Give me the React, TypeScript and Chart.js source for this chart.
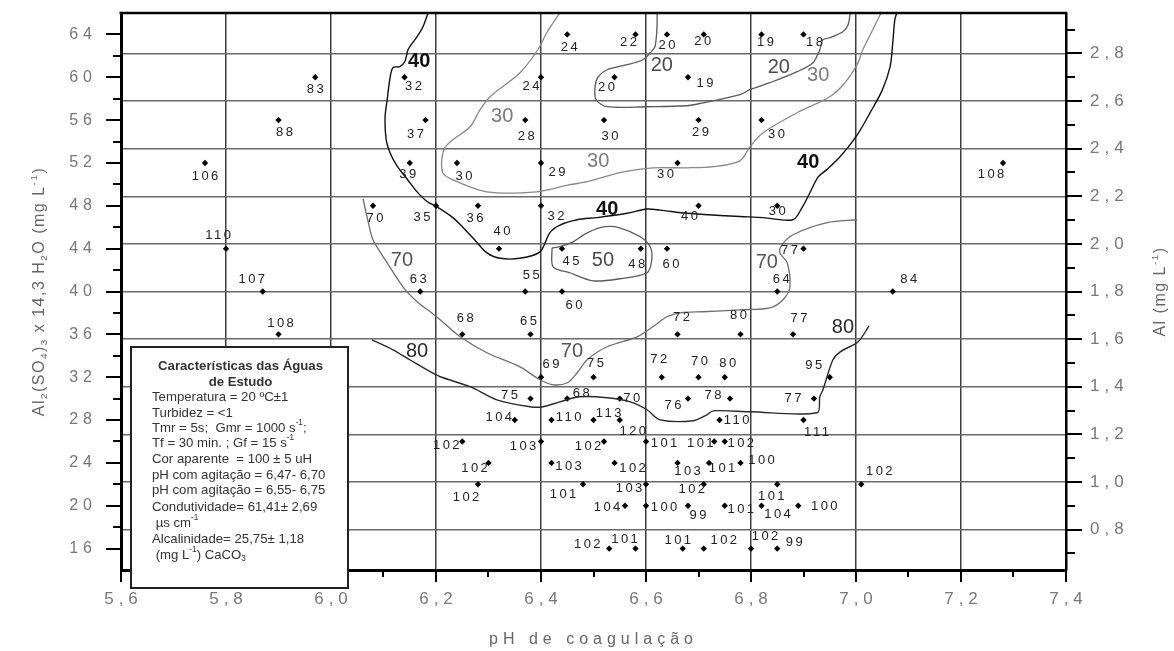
import React, { useEffect, useRef } from 'react';
import { Chart, registerables } from 'chart.js';

Chart.register(...registerables);

const FONT = '"Liberation Sans", Arial, Helvetica, sans-serif';

// ---------------- sample points ----------------
// coagulation pH
const samplePH = [
  6.45, 6.58, 6.64, 6.71, 6.82, 6.90,
  5.97, 6.14, 6.40, 6.54, 6.68,
  5.90, 6.18, 6.37, 6.52, 6.70, 6.82,
  5.76, 6.15, 6.24, 6.40, 6.66, 7.28,
  6.08, 6.20, 6.28, 6.40, 6.70, 6.85,
  5.80, 6.32, 6.44, 6.59, 6.64, 6.90,
  5.87, 6.17, 6.37, 6.44, 6.85, 7.07,
  5.90, 6.25, 6.38, 6.66, 6.78, 6.88,
  6.40, 6.50, 6.63, 6.70, 6.75, 6.95,
  6.38, 6.45, 6.55, 6.68, 6.76, 6.92,
  6.35, 6.42, 6.50, 6.55, 6.74, 6.90,
  6.25, 6.40, 6.52, 6.60, 6.73, 6.75,
  6.30, 6.42, 6.54, 6.66, 6.72, 6.78,
  6.28, 6.48, 6.60, 6.71, 6.85, 7.01,
  6.56, 6.60, 6.68, 6.75, 6.82, 6.89,
  6.53, 6.58, 6.67, 6.71, 6.80, 6.85,
];
// Al2(SO4)3 x 14,3 H2O dose (mg/L)
const sampleDose = [
  64, 64, 64, 64, 64, 64,
  60, 60, 60, 60, 60,
  56, 56, 56, 56, 56, 56,
  52, 52, 52, 52, 52, 52,
  48, 48, 48, 48, 48, 48,
  44, 44, 44, 44, 44, 44,
  40, 40, 40, 40, 40, 40,
  36, 36, 36, 36, 36, 36,
  32, 32, 32, 32, 32, 32,
  30, 30, 30, 30, 30, 30,
  28, 28, 28, 28, 28, 28,
  26, 26, 26, 26, 26, 26,
  24, 24, 24, 24, 24, 24,
  22, 22, 22, 22, 22, 22,
  20, 20, 20, 20, 20, 20,
  16, 16, 16, 16, 16, 16,
];
// measured value written next to each point
const sampleValue = [
  '24', '22', '20', '20', '19', '18',
  '83', '32', '24', '20', '19',
  '88', '37', '28', '30', '29', '30',
  '106', '39', '30', '29', '30', '108',
  '70', '35', '36', '32', '40', '30',
  '110', '40', '45', '48', '60', '77',
  '107', '63', '55', '60', '64', '84',
  '108', '68', '65', '72', '80', '77',
  '69', '75', '72', '70', '80', '95',
  '75', '68', '70', '76', '78', '77',
  '104', '110', '113', '120', '110', '111',
  '102', '103', '102', '101', '101', '102',
  '102', '103', '102', '103', '101', '100',
  '102', '101', '103', '102', '101', '102',
  '104', '100', '99', '101', '104', '100',
  '102', '101', '101', '102', '102', '99',
];
// label placement relative to its marker (px) – styling only
const labelShift: [number, number][] = [
  [2, 13], [-7, 8], [0, 11], [-1, 7], [4, 8], [11, 8],
  [0, 12], [9, 9], [-10, 9], [-8, 10], [17, 6],
  [6, 12], [-10, 14], [1, 16], [6, 16], [2, 12], [15, 14],
  [0, 13], [-2, 11], [7, 13], [16, 9], [-12, 11], [-12, 11],
  [2, 13], [-14, 12], [-3, 13], [15, 11], [-9, 11], [0, 6],
  [-8, -13], [3, -17], [9, 13], [-4, 16], [4, 16], [-14, 2],
  [-11, -12], [-2, -12], [6, -16], [12, 14], [4, -12], [16, -12],
  [2, -11], [3, -16], [-2, -13], [4, -17], [-2, -19], [6, -16],
  [10, -13], [2, -14], [-3, -18], [1, -16], [3, -14], [-16, -12],
  [-21, -3], [14, -5], [12, 0], [-15, 7], [-17, -3], [-21, 0],
  [-16, -3], [17, -3], [15, -7], [13, 11], [17, 0], [13, 12],
  [-16, 4], [-18, 5], [-16, 5], [18, 2], [-14, 2], [16, 2],
  [-14, 6], [17, 4], [18, 6], [10, 9], [13, 6], [21, -2],
  [-12, 13], [-20, 10], [-17, 4], [-12, 5], [-6, 12], [18, -13],
  [-18, 2], [18, 2], [10, 10], [16, 4], [16, 9], [26, 1],
  [-22, -4], [-11, -9], [-5, -8], [20, -8], [14, -12], [17, -6],
];

// ---------------- iso-lines [pH, dose] ----------------
const curve20: [number, number][] = [
  [6.621, 66.03], [6.621, 64.72], [6.617, 62.85], [6.608, 62.29], [6.594, 61.64], [6.564, 61.17],
  [6.526, 60.7], [6.509, 60.05], [6.503, 59.12], [6.505, 57.9], [6.526, 57.25], [6.602, 57.25],
  [6.678, 57.34], [6.709, 57.62], [6.779, 58.37], [6.798, 58.84], [6.836, 59.49], [6.888, 60.52],
  [6.918, 61.36], [6.931, 62.57], [6.937, 63.51], [6.95, 63.69], [6.975, 64.25], [6.985, 64.91],
  [6.989, 66.03],
];
const curve30: [number, number][] = [
  [6.436, 66.03], [6.411, 64.16], [6.394, 62.57], [6.36, 60.42], [6.303, 58.18], [6.284, 56.97],
  [6.265, 55.38], [6.232, 54.17], [6.217, 53.42], [6.211, 52.3], [6.213, 51.09], [6.232, 50.43],
  [6.297, 49.31], [6.392, 49.31], [6.455, 49.97], [6.488, 50.25], [6.55, 51.09], [6.583, 51.37],
  [6.613, 51.55], [6.678, 51.55], [6.728, 51.65], [6.779, 52.2], [6.798, 53.51], [6.823, 54.82],
  [6.888, 56.69], [6.95, 58.18], [6.979, 59.49], [7.002, 61.17], [7.013, 62.57], [7.032, 64.44],
  [7.046, 65.84], [7.05, 66.03],
];
const curve40: [number, number][] = [
  [6.185, 66.03], [6.175, 64.7], [6.164, 63.8], [6.147, 62.6], [6.141, 61.5], [6.131, 61.0],
  [6.118, 60.9], [6.112, 59.8], [6.107, 57.9], [6.103, 56.3], [6.105, 54.2], [6.112, 53.0],
  [6.126, 51.7], [6.145, 50.5], [6.164, 49.3], [6.183, 48.4], [6.202, 47.9], [6.232, 46.9],
  [6.251, 46.0], [6.274, 44.8], [6.297, 43.6], [6.322, 43.1], [6.36, 43.1], [6.398, 43.7],
  [6.417, 45.5], [6.436, 46.2], [6.469, 46.7], [6.507, 46.9], [6.564, 47.3], [6.602, 47.7],
  [6.627, 47.6], [6.678, 47.3], [6.741, 47.1], [6.779, 47.0], [6.823, 46.9], [6.88, 46.7],
  [6.898, 47.9], [6.912, 49.2], [6.928, 50.7], [6.945, 51.4], [6.97, 52.6], [7.002, 54.6],
  [7.027, 56.7], [7.05, 58.8], [7.065, 61.0], [7.07, 63.2], [7.074, 65.4], [7.078, 66.03],
];
const curve50: [number, number][] = [
  [6.421, 44.08], [6.423, 42.31], [6.455, 41.75], [6.499, 41.0], [6.55, 41.19], [6.602, 41.75],
  [6.611, 42.96], [6.608, 44.18], [6.589, 45.11], [6.55, 45.95], [6.522, 46.05], [6.488, 45.48],
  [6.461, 44.64], [6.436, 44.18], [6.421, 44.08],
];
const curve70: [number, number][] = [
  [6.061, 48.66], [6.07, 46.7], [6.08, 44.83], [6.107, 42.68], [6.137, 40.44], [6.164, 39.04],
  [6.189, 38.11], [6.208, 37.36], [6.246, 35.77], [6.297, 34.28], [6.36, 32.97], [6.398, 31.76],
  [6.423, 31.29], [6.45, 31.48], [6.469, 32.41], [6.488, 33.63], [6.526, 34.84], [6.583, 35.77],
  [6.613, 36.71], [6.64, 37.64], [6.665, 38.01], [6.709, 38.11], [6.779, 38.29], [6.836, 38.48],
  [6.861, 39.23], [6.874, 40.44], [6.869, 42.68], [6.855, 43.62], [6.859, 44.36], [6.88, 45.3],
  [6.945, 46.42], [7.002, 46.7],
];
const curve80: [number, number][] = [
  [6.078, 35.49], [6.118, 34.56], [6.15, 33.63], [6.189, 32.51], [6.208, 32.04], [6.265, 31.11],
  [6.316, 29.89], [6.379, 29.24], [6.404, 29.24], [6.436, 29.7], [6.474, 30.17], [6.526, 30.08],
  [6.57, 29.7], [6.602, 28.96], [6.627, 28.02], [6.69, 27.93], [6.716, 28.49], [6.728, 28.86],
  [6.798, 28.77], [6.926, 28.68], [6.931, 30.17], [6.937, 30.83], [6.956, 33.63], [6.97, 34.37],
  [7.004, 35.31], [7.025, 36.8],
];

// iso-line labels
const isoLabelText = ['40', '40', '40', '30', '30', '30', '20', '20', '50', '70', '70', '70', '80', '80'];
const isoLabelPH = [6.168, 6.526, 6.909, 6.326, 6.509, 6.928, 6.63, 6.853, 6.518, 6.135, 6.459, 6.83, 6.164, 6.975];
const isoLabelDose = [61.45, 47.63, 52.02, 56.31, 52.11, 60.14, 61.07, 60.89, 42.87, 42.87, 34.37, 42.68, 34.37, 36.61];

// axis ranges and tick values
const X_MIN = 5.6, X_MAX = 7.4;
const Y_MIN = 14, Y_MAX = 66;
const AL_MIN = 0.63, AL_MAX = 2.97;
const phTicks = [5.6, 5.7, 5.8, 5.9, 6.0, 6.1, 6.2, 6.3, 6.4, 6.5, 6.6, 6.7, 6.8, 6.9, 7.0, 7.1, 7.2, 7.3, 7.4];
const doseTicks = [16, 18, 20, 22, 24, 26, 28, 30, 32, 34, 36, 38, 40, 42, 44, 46, 48, 50, 52, 54, 56, 58, 60, 62, 64];
const alTicks = [0.7, 0.8, 0.9, 1.0, 1.1, 1.2, 1.3, 1.4, 1.5, 1.6, 1.7, 1.8, 1.9, 2.0, 2.1, 2.2, 2.3, 2.4, 2.5, 2.6, 2.7, 2.8, 2.9];

// legend-box lines
type Seg = { t: string; s?: 'sup' | 'sub' };
const boxTitle = ['Características das Águas', 'de Estudo'];
const boxLines: Seg[][] = [
  [{ t: 'Temperatura = 20 ºC±1' }],
  [{ t: 'Turbidez = <1' }],
  [{ t: 'Tmr = 5s;  Gmr = 1000 s' }, { t: '-1', s: 'sup' }, { t: ';' }],
  [{ t: 'Tf = 30 min. ; Gf = 15 s' }, { t: '-1', s: 'sup' }],
  [{ t: 'Cor aparente  = 100 ± 5 uH' }],
  [{ t: 'pH com agitação = 6,47- 6,70' }],
  [{ t: 'pH com agitação = 6,55- 6,75' }],
  [{ t: 'Condutividade= 61,41± 2,69' }],
  [{ t: ' µs cm' }, { t: '-1', s: 'sup' }],
  [{ t: 'Alcalinidade= 25,75± 1,18' }],
  [{ t: ' (mg L' }, { t: '-1', s: 'sup' }, { t: ') CaCO' }, { t: '3', s: 'sub' }],
];
const leftTitle: Seg[] = [
  { t: 'Al' }, { t: '2', s: 'sub' }, { t: '(SO' }, { t: '4', s: 'sub' }, { t: ')' }, { t: '3', s: 'sub' },
  { t: ' x 14,3 H' }, { t: '2', s: 'sub' }, { t: 'O (mg L' }, { t: '-1', s: 'sup' }, { t: ')' },
];
const rightTitle: Seg[] = [{ t: 'Al (mg L' }, { t: '-1', s: 'sup' }, { t: ')' }];

// styles
const levelStyle: Record<string, { line: string; text: string; width: number; bold: boolean }> = {
  '20': { line: '#5a5a5a', text: '#4a4a4a', width: 1.3, bold: false },
  '30': { line: '#888888', text: '#7a7a7a', width: 1.3, bold: false },
  '40': { line: '#111111', text: '#111111', width: 1.4, bold: true },
  '50': { line: '#5a5a5a', text: '#4a4a4a', width: 1.3, bold: false },
  '70': { line: '#6e6e6e', text: '#555555', width: 1.3, bold: false },
  '80': { line: '#2a2a2a', text: '#2a2a2a', width: 1.4, bold: false },
};

function segFont(size: number, weight: string, s?: string) {
  const fs = s ? size * 0.62 : size;
  return `${weight} ${fs}px ${FONT}`;
}
function richWidth(ctx: CanvasRenderingContext2D, segs: Seg[], size: number, weight: string) {
  let w = 0;
  for (const seg of segs) {
    ctx.font = segFont(size, weight, seg.s);
    w += ctx.measureText(seg.t).width;
  }
  return w;
}
function drawRich(ctx: CanvasRenderingContext2D, segs: Seg[], x: number, y: number, size: number, weight: string) {
  let cx = x;
  for (const seg of segs) {
    ctx.font = segFont(size, weight, seg.s);
    const dy = seg.s === 'sup' ? -size * 0.36 : seg.s === 'sub' ? size * 0.28 : 0;
    ctx.fillText(seg.t, cx, y + dy);
    cx += ctx.measureText(seg.t).width;
  }
}

const setTicks = (values: number[]) => (s: any) => {
  s.ticks = values.map((v) => ({ value: v }));
};
const noOverflow = (size: number, key: 'width' | 'height') => (s: any) => {
  s[key] = size;
  s.paddingTop = 0;
  s.paddingBottom = 0;
  s.paddingLeft = 0;
  s.paddingRight = 0;
};

const decorPlugin = {
  id: 'decor',
  beforeDraw(chart: any) {
    chart.ctx.letterSpacing = '5px';
  },
  beforeDatasetsDraw(chart: any) {
    chart.ctx.letterSpacing = '0px';
  },
  afterDatasetsDraw(chart: any) {
    const ctx: CanvasRenderingContext2D = chart.ctx;
    const xs = chart.scales.x;
    const ys = chart.scales.y;
    ctx.save();
    // iso-line labels
    ctx.textAlign = 'center';
    ctx.textBaseline = 'middle';
    (ctx as any).letterSpacing = '0px';
    isoLabelText.forEach((t, i) => {
      const st = levelStyle[t];
      ctx.font = `${st.bold ? 'bold ' : ''}20px ${FONT}`;
      ctx.fillStyle = st.text;
      ctx.fillText(t, xs.getPixelForValue(isoLabelPH[i]), ys.getPixelForValue(isoLabelDose[i]));
    });
    // point labels
    const meta = chart.getDatasetMeta(chart.data.datasets.length - 1);
    ctx.font = `13px ${FONT}`;
    ctx.fillStyle = '#222';
    ctx.textAlign = 'left';
    const sp = 2.5;
    (ctx as any).letterSpacing = sp + 'px';
    meta.data.forEach((el: any, i: number) => {
      const t = sampleValue[i];
      const w = ctx.measureText(t).width - sp;
      const [dx, dy] = labelShift[i];
      ctx.fillText(t, el.x + dx - w / 2, el.y + dy);
    });
    ctx.restore();
  },
  afterDraw(chart: any) {
    const ctx: CanvasRenderingContext2D = chart.ctx;
    const { left, right, top, bottom } = chart.chartArea;
    const xs = chart.scales.x;
    const ys = chart.scales.y;
    const y2 = chart.scales.y2;
    ctx.save();
    (ctx as any).letterSpacing = '0px';
    // top frame
    ctx.strokeStyle = '#000';
    ctx.lineWidth = 2.5;
    ctx.beginPath();
    ctx.moveTo(left - 1.5, top);
    ctx.lineTo(right + 1, top);
    ctx.stroke();
    // tick marks
    ctx.lineWidth = 2;
    ctx.beginPath();
    xs.ticks.forEach((tk: any) => {
      const major = Math.round(tk.value * 10) % 2 === 0;
      const px = Math.round(xs.getPixelForValue(tk.value));
      ctx.moveTo(px, bottom);
      ctx.lineTo(px, bottom + (major ? 12 : 7));
    });
    ys.ticks.forEach((tk: any) => {
      const major = Math.round(tk.value) % 4 === 0;
      const py = Math.round(ys.getPixelForValue(tk.value));
      ctx.moveTo(left + 1, py);
      ctx.lineTo(left - (major ? 15 : 8), py);
    });
    y2.ticks.forEach((tk: any) => {
      const major = Math.round(tk.value * 10) % 2 === 0;
      const py = Math.round(y2.getPixelForValue(tk.value));
      ctx.moveTo(right, py);
      ctx.lineTo(right + (major ? 16 : 9), py);
    });
    ctx.stroke();

    // side titles
    ctx.fillStyle = '#666';
    ctx.textBaseline = 'middle';
    ctx.textAlign = 'left';
    (ctx as any).letterSpacing = '1.5px';
    const midY = (top + bottom) / 2;
    let w = richWidth(ctx, leftTitle, 16, 'normal');
    ctx.save();
    ctx.translate(40, midY);
    ctx.rotate(-Math.PI / 2);
    drawRich(ctx, leftTitle, -w / 2, 0, 16, 'normal');
    ctx.restore();
    w = richWidth(ctx, rightTitle, 16, 'normal');
    ctx.save();
    ctx.translate(1161, midY);
    ctx.rotate(-Math.PI / 2);
    drawRich(ctx, rightTitle, -w / 2, 0, 16, 'normal');
    ctx.restore();

    // legend box
    (ctx as any).letterSpacing = '0px';
    const bx = 131, by = 347, bw = 217, bh = 241;
    ctx.fillStyle = '#fff';
    ctx.fillRect(bx, by, bw, bh);
    ctx.strokeStyle = '#222';
    ctx.lineWidth = 2;
    ctx.strokeRect(bx, by, bw, bh);
    ctx.fillStyle = '#333';
    ctx.textAlign = 'center';
    ctx.font = `bold 13.2px ${FONT}`;
    ctx.fillText(boxTitle[0], bx + bw / 2 + 1, 366);
    ctx.fillText(boxTitle[1], bx + bw / 2 + 1, 382);
    ctx.textAlign = 'left';
    const lineY = [397, 413, 428, 443, 459, 475, 490, 507, 523, 539, 555];
    boxLines.forEach((segs, i) => drawRich(ctx, segs, 152, lineY[i], 13.2, 'normal'));
    ctx.restore();
  },
};

export default function App() {
  const ref = useRef<HTMLCanvasElement | null>(null);
  useEffect(() => {
    if (!ref.current) return;
    const curves: { level: string; pts: [number, number][] }[] = [
      { level: '20', pts: curve20 },
      { level: '30', pts: curve30 },
      { level: '40', pts: curve40 },
      { level: '50', pts: curve50 },
      { level: '70', pts: curve70 },
      { level: '80', pts: curve80 },
    ];
    const datasets: any[] = curves.map((c) => ({
      label: 'iso ' + c.level,
      data: c.pts.map(([x, y]) => ({ x, y })),
      showLine: true,
      borderColor: levelStyle[c.level].line,
      borderWidth: levelStyle[c.level].width,
      pointRadius: 0,
      tension: 0.3,
      fill: false,
      xAxisID: 'x',
      yAxisID: 'y',
    }));
    datasets.push({
      label: 'ensaios',
      data: samplePH.map((x, i) => ({ x, y: sampleDose[i] })),
      showLine: false,
      pointStyle: 'rectRot',
      pointRadius: 3.2,
      backgroundColor: '#000',
      borderColor: '#000',
      borderWidth: 0,
      xAxisID: 'x',
      yAxisID: 'y',
    });

    const chart = new Chart(ref.current, {
      type: 'scatter',
      data: { datasets },
      plugins: [decorPlugin],
      options: {
        responsive: false,
        devicePixelRatio: 1,
        animation: false,
        layout: { padding: { top: 13, left: 0, right: 0, bottom: 0 } },
        plugins: { legend: { display: false }, tooltip: { enabled: false } },
        scales: {
          x: {
            type: 'linear',
            position: 'bottom',
            min: X_MIN,
            max: X_MAX,
            bounds: 'data',
            afterBuildTicks: setTicks(phTicks),
            afterFit: noOverflow(81, 'height'),
            ticks: {
              autoSkip: false,
              maxRotation: 0,
              padding: 19,
              labelOffset: 2.5,
              color: '#777',
              font: { size: 17, family: FONT },
              callback: (v: any) => {
                const r = Math.round(Number(v) * 10);
                return r % 2 === 0 ? (r / 10).toFixed(1).replace('.', ',') : '';
              },
            },
            grid: {
              drawTicks: false,
              lineWidth: 1.5,
              color: (c: any) => {
                if (!c.tick) return 'transparent';
                const r = Math.round(c.tick.value * 10);
                return r % 2 === 0 && r > 56 && r < 74 ? '#3c3c3c' : 'transparent';
              },
            },
            border: { color: '#000', width: 3 },
            title: {
              display: true,
              text: 'pH de coagulação',
              color: '#666',
              font: { size: 16, family: FONT },
              padding: { top: 0, bottom: 2 },
            },
          },
          y: {
            type: 'linear',
            position: 'left',
            min: Y_MIN,
            max: Y_MAX,
            bounds: 'data',
            afterBuildTicks: setTicks(doseTicks),
            afterFit: noOverflow(121, 'width'),
            ticks: {
              autoSkip: false,
              padding: 24,
              color: '#777',
              font: { size: 16, family: FONT },
              callback: (v: any) => (Math.round(Number(v)) % 4 === 0 ? String(Math.round(Number(v))) : ''),
            },
            grid: { drawTicks: false, color: 'transparent' },
            border: { color: '#000', width: 3 },
          },
          y2: {
            type: 'linear',
            position: 'right',
            min: AL_MIN,
            max: AL_MAX,
            bounds: 'data',
            afterBuildTicks: setTicks(alTicks),
            afterFit: noOverflow(108, 'width'),
            ticks: {
              autoSkip: false,
              padding: 24,
              color: '#777',
              font: { size: 17, family: FONT },
              callback: (v: any) => {
                const r = Math.round(Number(v) * 10);
                return r % 2 === 0 ? (r / 10).toFixed(1).replace('.', ',') : '';
              },
            },
            grid: {
              drawTicks: false,
              lineWidth: 1.5,
              color: (c: any) => {
                if (!c.tick) return 'transparent';
                return Math.round(c.tick.value * 10) % 2 === 0 ? '#6a6a6a' : 'transparent';
              },
            },
            border: { color: '#000', width: 2.5 },
          },
        },
      } as any,
    });
    return () => chart.destroy();
  }, []);

  return (
    <div style={{ position: 'absolute', left: 0, top: 0, width: 1174, height: 651, background: '#fff' }}>
      <canvas ref={ref} width={1174} height={651} style={{ display: 'block' }} />
    </div>
  );
}
